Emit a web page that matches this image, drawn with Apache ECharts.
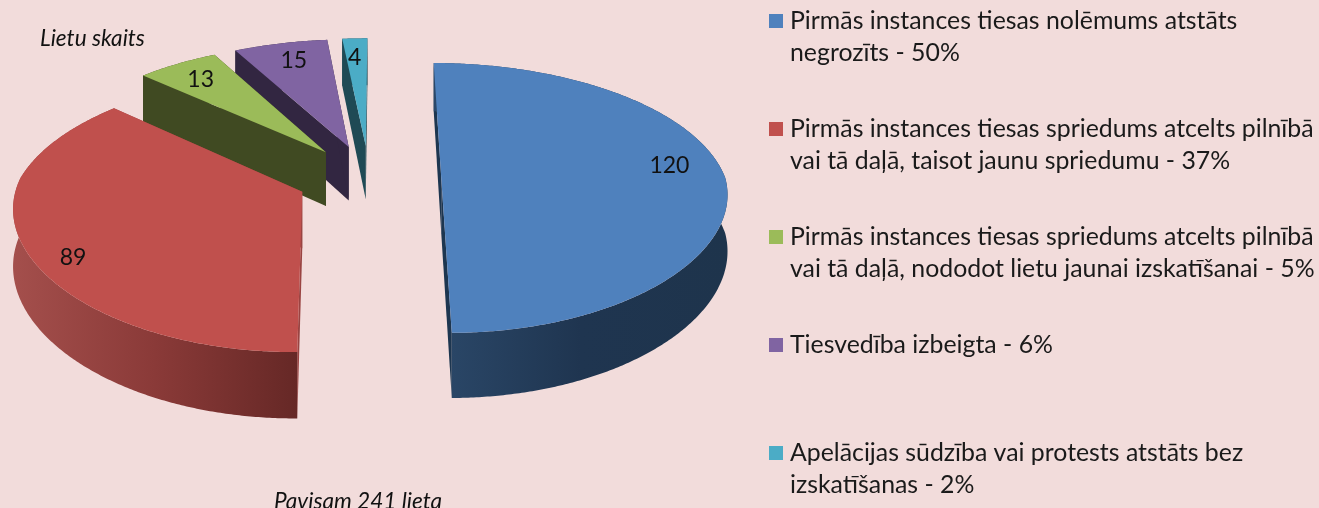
<!DOCTYPE html>
<html>
<head>
<meta charset="utf-8">
<style>
  html, body { margin: 0; padding: 0; background: #f2dcdb; overflow: hidden; }
  #main { width: 1319px; height: 508px; }
</style>
<script src="https://cdn.jsdelivr.net/npm/echarts@6/dist/echarts.min.js"></script>
</head>
<body>
<div id="main"></div>
<script>
// dati
var values = [120, 89, 13, 15, 4];
var legendLabels = [
  'Pirmās instances tiesas nolēmums atstāts\nnegrozīts - 50%',
  'Pirmās instances tiesas spriedums atcelts pilnībā\nvai tā daļā, taisot jaunu spriedumu - 37%',
  'Pirmās instances tiesas spriedums atcelts pilnībā\nvai tā daļā, nododot lietu jaunai izskatīšanai - 5%',
  'Tiesvedība izbeigta - 6%',
  'Apelācijas sūdzība vai protests atstāts bez\nizskatīšanas - 2%'
];
var topTitle = 'Lietu skaits';
var bottomTitle = 'Pavisam 241 lieta';

// krāsas
var topColors = ['#4f81bd', '#c0504d', '#9bbb59', '#8064a2', '#4bacc6'];
var radialColors = ['#1d3650', '#9a4442', '#404a22', '#322641', '#1f4a55'];
var wallStops = [
  ['#2b4869', '#1f3550', '#1e344c'],
  ['#a44f4c', '#8a3a38', '#662826'],
  ['#404a22', '#404a22', '#404a22'],
  ['#322641', '#322641', '#322641'],
  ['#1f4a55', '#1f4a55', '#1f4a55']
];
// teksta nobīde no sektora centra (Excel liek etiķetes nedaudz citur)
var labelShift = [[1, -12], [-10, 19], [-4, -1], [1, -2], [-2, 0]];

// perspektīvas parametri
var centerX = 369, centerY = 178;
var radiusX = 284, radiusY = 132;
var tiltBack = 0.14, tiltFront = 0.1, tiltY = 0.148;
var explode = 0.2545;
var thickness = 55.5;
var startAngle = 0.3;

var total = values.reduce(function (a, b) { return a + b; }, 0);

function rad(deg) {
  return deg * Math.PI / 180;
}

// pie plaknes punkts -> ekrāns
function project(u, v, depth) {
  var wx = 1 + (v > 0 ? tiltBack : tiltFront) * v;
  var wy = 1 + tiltY * v;
  return [centerX + radiusX * u / wx, centerY - radiusY * v / wy + depth / wy];
}

function sliceAngles(index) {
  var before = 0;
  for (var i = 0; i < index; i++) {
    before += values[i];
  }
  var from = startAngle + before / total * 360;
  return [from, from + values[index] / total * 360];
}

function renderSlice(params, api) {
  var i = params.dataIndex;
  var ang = sliceAngles(i);
  var mid = (ang[0] + ang[1]) / 2;
  var ax = explode * Math.sin(rad(mid));
  var ay = explode * Math.cos(rad(mid));
  var order = (values.length - i) * 10;

  var topPts = [project(ax, ay, 0)];
  var arcTop = [];
  var arcBottom = [];
  var steps = Math.ceil(ang[1] - ang[0]) * 2;
  for (var s = 0; s <= steps; s++) {
    var t = rad(ang[0] + (ang[1] - ang[0]) * s / steps);
    var u = ax + Math.sin(t);
    var v = ay + Math.cos(t);
    arcTop.push(project(u, v, 0));
    arcBottom.unshift(project(u, v, thickness));
  }
  topPts = topPts.concat(arcTop);

  var a0 = project(ax, ay, 0);
  var a1 = project(ax, ay, thickness);
  var stops = wallStops[i];
  var children = [
    {
      type: 'polygon',
      z2: order,
      shape: { points: [a0, arcTop[0], arcBottom[arcBottom.length - 1], a1] },
      style: { fill: radialColors[i] }
    },
    {
      type: 'polygon',
      z2: order,
      shape: { points: [a0, arcTop[arcTop.length - 1], arcBottom[0], a1] },
      style: { fill: radialColors[i] }
    },
    {
      type: 'polygon',
      z2: order + 1,
      shape: { points: arcTop.concat(arcBottom) },
      style: {
        fill: new echarts.graphic.LinearGradient(0, 0, 1, 0, [
          { offset: 0, color: stops[0] },
          { offset: 0.5, color: stops[1] },
          { offset: 1, color: stops[2] }
        ])
      }
    },
    {
      type: 'polygon',
      z2: order + 2,
      shape: { points: topPts },
      style: { fill: topColors[i] }
    }
  ];

  var r = 0.8;
  var lp = project(ax + r * Math.sin(rad(mid)), ay + r * Math.cos(rad(mid)), 0);
  children.push({
    type: 'text',
    z2: 200,
    x: lp[0] + labelShift[i][0],
    y: lp[1] + labelShift[i][1],
    style: {
      text: String(api.value(0)),
      fill: '#111',
      font: '23px Lato',
      align: 'center',
      verticalAlign: 'middle'
    }
  });
  return { type: 'group', children: children };
}

function renderLegend(params, api) {
  var i = params.dataIndex;
  var rowY = 21 + 108 * i;
  return {
    type: 'group',
    children: [
      {
        type: 'rect',
        shape: { x: 769, y: rowY - 7, width: 14, height: 14 },
        style: { fill: topColors[i] }
      },
      {
        type: 'text',
        x: 790,
        y: rowY - 16,
        style: {
          text: legendLabels[i],
          fill: '#1a1a1a',
          font: '24.85px Lato',
          lineHeight: 32,
          align: 'left',
          verticalAlign: 'top'
        }
      }
    ]
  };
}

var chart = echarts.init(document.getElementById('main'), null, { renderer: 'canvas' });
chart.setOption({
  backgroundColor: '#f2dcdb',
  animation: false,
  graphic: [
    {
      type: 'text',
      left: 40,
      top: 27,
      style: { text: topTitle, fill: '#111', font: 'italic 22.6px Lato' }
    },
    {
      type: 'text',
      left: 274,
      top: 490,
      style: { text: bottomTitle, fill: '#111', font: 'italic 22.6px Lato' }
    }
  ],
  series: [
    {
      type: 'custom',
      coordinateSystem: 'none',
      renderItem: renderSlice,
      data: values
    },
    {
      type: 'custom',
      coordinateSystem: 'none',
      renderItem: renderLegend,
      data: values
    }
  ]
});
</script>
</body>
</html>
